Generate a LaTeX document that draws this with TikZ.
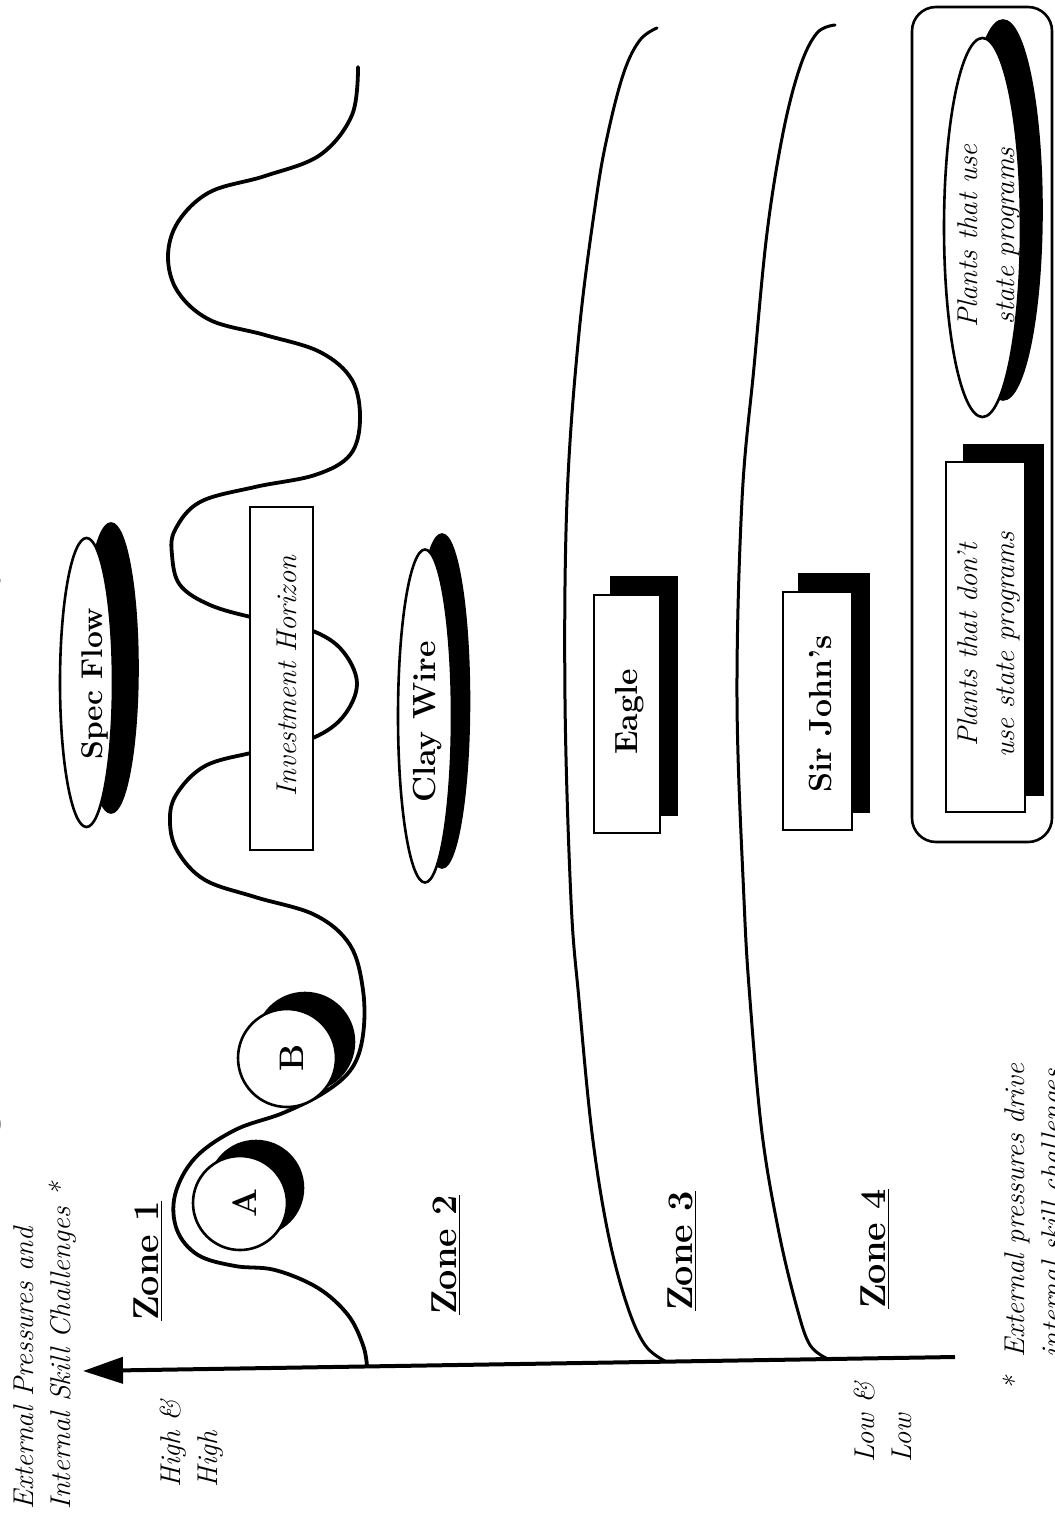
\documentclass[tikz,border=0pt]{standalone}
\usepackage{fontspec}
\usetikzlibrary{shapes.geometric,arrows.meta}
\begin{document}
\begin{tikzpicture}[x=0.5pt,y=-0.5pt,
  wline/.style={line width=1.9pt,line cap=round,line join=round},
  zline/.style={line width=1.5pt,line cap=round,line join=round},
  shp/.style={draw,line width=1.3pt,fill=white,inner sep=0pt},
  shd/.style={draw,fill=black,line width=1.3pt,inner sep=0pt},
  rot/.style={rotate=90,inner sep=0pt},
  bl/.style={rot,font=\bfseries\fontsize{16}{19}\selectfont},
  itx/.style={rot,font=\itshape\fontsize{14.3}{18.5}\selectfont,align=center},
  itl/.style={rot,font=\itshape\fontsize{14.3}{18.5}\selectfont,align=left,anchor=north west},
  zone/.style={rot,font=\bfseries\fontsize{18}{20}\selectfont}]
\clip (0,0) rectangle (1054,1535);
\fill[white] (0,0) rectangle (1054,1535);

% title (cut off by the page edge)
\node[rot,anchor=base west,font=\bfseries\fontsize{21}{24}\selectfont] (title) at (-8,1180) {Figure 2: A Plant Probability of Success};

% axis
\coordinate (axisR) at (955,1357);
\coordinate (axisTip) at (83,1371);
\draw[line width=2pt,-{Triangle[length=20pt,width=13pt]}] (axisR) -- (axisTip);

% zone 1 / zone 2 boundary (wave)
\draw[wline] plot[smooth,tension=0.6] coordinates {
 (358,67) (352,115) (320,155) (265,176) (210,192) (178,222) (168,257)
 (178,292) (210,320) (265,335) (320,352) (352,380) (360,420) (350,455)
 (315,475) (255,487) (200,502) (175,530) (172,555) (180,585) (210,605)
 (255,618) (305,628) (340,648) (357,683) (342,718) (308,740) (255,752)
 (205,766) (176,795) (170,823) (178,852) (205,880) (255,897) (315,915)
 (350,945) (363,990) (363,1035) (352,1068) (325,1092) (283,1113)
 (235,1130) (195,1158) (175,1195) (177,1230) (198,1255) (235,1266)
 (275,1270) (318,1288) (348,1315) (363,1345) (367,1366)};

% zone 2 / zone 3 boundary
\draw[zline] plot[smooth,tension=0.6] coordinates {
 (657,28) (640,40) (624,72) (608,133) (596,200) (579,333) (567,500)
 (565,700) (571,900) (579,1000) (592,1133) (608,1233) (627,1305)
 (645,1345) (665,1361)};
% zone 3 / zone 4 boundary
\draw[zline] plot[smooth,tension=0.6] coordinates {
 (835,25) (817,33) (800,67) (783,133) (767,233) (754,367) (742,500)
 (737,700) (744,900) (750,1000) (762,1133) (779,1233) (797,1308)
 (810,1345) (828,1359)};

% circles A and B
\node[shd,circle,minimum size=47pt] (Ash) at (256,1188) {};
\node[shp,circle,minimum size=47pt] (A) at (240,1203) {};
\node[bl,font=\bfseries\fontsize{17}{19}\selectfont] (Atx) at (245,1203) {A};
\node[shd,circle,minimum size=49pt] (Bsh) at (305,1042) {};
\node[shp,circle,minimum size=49pt] (B) at (287,1058) {};
\node[bl,font=\bfseries\fontsize{17}{19}\selectfont] (Btx) at (292,1058) {B};

% Spec Flow
\node[shd,ellipse,minimum width=26.5pt,minimum height=144.5pt] (sfs) at (111,668) {};
\node[shp,ellipse,minimum width=26.5pt,minimum height=144.5pt] (sf) at (86.5,682.5) {};
\node[bl,font=\bfseries\fontsize{15}{18}\selectfont] (sft) at (95,684) {Spec Flow};

% Investment Horizon
\node[shp,rectangle,minimum width=31.5pt,minimum height=171.5pt] (ih) at (281.5,678.5) {};
\node[itx] (iht) at (287,676) {Investment Horizon};

% Clay Wire
\node[shd,ellipse,minimum width=27pt,minimum height=166.5pt] (cws) at (442,701) {};
\node[shp,ellipse,minimum width=27pt,minimum height=166.5pt] (cw) at (425,716) {};
\node[bl] (cwt) at (428,722) {Clay Wire};

% Eagle
\node[shd,rectangle,minimum width=33pt,minimum height=119pt] (egs) at (644,696) {};
\node[shp,rectangle,minimum width=33pt,minimum height=119pt] (eg) at (627,714) {};
\node[bl] (egt) at (630,712) {Eagle};

% Sir John's
\node[shd,rectangle,minimum width=34.5pt,minimum height=119pt] (sjs) at (834,693) {};
\node[shp,rectangle,minimum width=34.5pt,minimum height=119pt] (sj) at (817.5,711) {};
\node[bl] (sjt) at (821,714) {Sir John’s};

% state programs group
\node[shp,rectangle,rounded corners=12pt,minimum width=70pt,minimum height=417.5pt] (grp) at (982,424.5) {};
\node[shd,ellipse,minimum width=38.5pt,minimum height=189.5pt] (pus) at (1003,210) {};
\node[shp,ellipse,minimum width=38.5pt,minimum height=189.5pt] (pu) at (982.5,227.5) {};
\node[itx] (put) at (989,236) {Plants that use\\state programs};
\node[shd,rectangle,minimum width=39.5pt,minimum height=175pt] (pds) at (1003.5,620) {};
\node[shp,rectangle,minimum width=39.5pt,minimum height=175pt] (pd) at (985.5,637) {};
\node[itx] (pdt) at (989,645) {Plants that don’t\\use state programs};

% zone labels
\node[zone] (z1) at (148,1261) {\underline{Zone 1}};
\node[zone] (z2) at (446,1255) {\underline{Zone 2}};
\node[zone] (z3) at (682,1251) {\underline{Zone 3}};
\node[zone] (z4) at (875,1249) {\underline{Zone 4}};

% axis texts
\node[itl] (ylab) at (13,1510) {External Pressures and\\Internal Skill Challenges *};
\node[itl] (hi) at (160,1488) {High \&\\High};
\node[itl] (lo) at (854,1463) {Low \&\\Low};
\node[itl] (fn) at (998,1392) {\begin{tabular}{@{}l@{\ \ }l@{}}*&External pressures drive\\&internal skill challenges.\end{tabular}};
\end{tikzpicture}
\end{document}
